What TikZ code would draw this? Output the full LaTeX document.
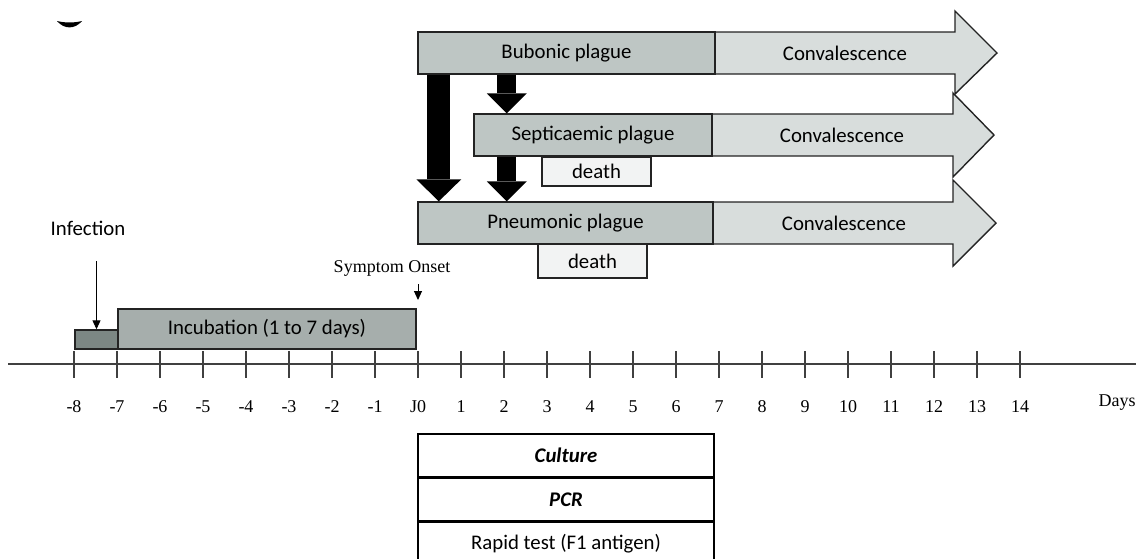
\documentclass[tikz,border=0pt]{standalone}
\usepackage{fontspec}
\setmainfont{Carlito}
\newfontfamily\numfont{Liberation Serif}
\usetikzlibrary{arrows.meta,positioning}

\definecolor{stagegrey}{RGB}{190,198,196}
\definecolor{convgrey}{RGB}{216,221,220}
\definecolor{incgrey}{RGB}{166,174,172}
\definecolor{infgrey}{RGB}{124,135,132}
\definecolor{deathgrey}{RGB}{242,243,243}
\definecolor{edgegrey}{RGB}{35,35,35}

\tikzset{
  txt/.style={font=\fontsize{20.8}{25}\selectfont},
  num/.style={font=\numfont\fontsize{18}{20}\selectfont},
  box/.style={txt, draw=edgegrey, line width=1.4pt, inner sep=0pt},
  stage/.style={box, fill=stagegrey, minimum height=42pt},
  conv/.style={draw=edgegrey, line width=1.4pt, fill=convgrey},
  testrow/.style={box, draw=black, fill=white, minimum width=296pt},
  bigdrop/.style={line width=23pt, -{Triangle[width=45pt, length=22pt, line width=0pt]}},
  smalldrop/.style={line width=19pt, -{Triangle[width=40pt, length=20pt, line width=0pt]}},
  pointer/.style={line width=1pt, -{Triangle[width=8pt, length=9pt]}},
  axis/.style={line width=1.3pt, draw=black!75}
}

\begin{document}
\begin{tikzpicture}[x=1pt, y=-1pt]
  \useasboundingbox (0,0) rectangle (1136,558);

  % stray mark, top left
  \fill (57,21) .. controls (65,23) and (74,23) .. (82,21)
        .. controls (75,29.5) and (64,29.5) .. cycle;

  % convalescence arrows
  \draw[conv] (714,32) -- (955,32) -- (955,11) -- (997,53)
              -- (955,94) -- (955,74) -- (714,74) -- cycle;
  \draw[conv] (711,114) -- (953,114) -- (953,93) -- (994,135)
              -- (953,177) -- (953,156) -- (711,156) -- cycle;
  \draw[conv] (712,202) -- (953,202) -- (953,180) -- (996,223)
              -- (953,266) -- (953,244) -- (712,244) -- cycle;
  \node[txt] (bubconv)  at (845,53)  {Convalescence};
  \node[txt] (sepconv)  at (842,135) {Convalescence};
  \node[txt] (pneuconv) at (844,223) {Convalescence};

  % clinical forms
  \node[stage, minimum width=297pt] (bub)  at (566.5,53)  {Bubonic plague};
  \node[stage, minimum width=238pt] (sep)  at (593,135)   {Septicaemic plague};
  \node[stage, minimum width=295pt] (pneu) at (565.5,223) {Pneumonic plague};
  \node[box, fill=deathgrey, minimum width=109pt, minimum height=29pt]
        (sepdeath)  at (596.5,171.5) {death};
  \node[box, fill=deathgrey, minimum width=109pt, minimum height=34pt]
        (pneudeath) at (592.5,261)   {death};

  \draw[bigdrop]   ([xshift=21.5pt]bub.south west) -- ([xshift=21.5pt]pneu.north west);
  \draw[smalldrop] ([xshift=89.5pt]bub.south west) -- ([xshift=33.5pt]sep.north west);
  \draw[smalldrop] ([xshift=33.5pt]sep.south west) -- ([xshift=89.5pt]pneu.north west);

  % incubation
  \node[box, fill=infgrey, minimum width=43pt, minimum height=19pt] (infbox) at (96.5,339.5) {};
  \node[box, fill=incgrey, minimum width=298pt, minimum height=40pt] (incub) at (267,329)
        {Incubation (1 to 7 days)};
  \node[txt] (inflabel) at (88,228) {Infection};
  \coordinate (infstart) at (96.5,261);
  \draw[pointer] (infstart) -- (infbox.north);
  \node[num] (onset) at (392,268) {Symptom Onset};
  \coordinate (onsettop) at (418,284);
  \coordinate (onsetend) at (418,300);
  \draw[pointer] (onsettop) -- (onsetend);

  % time axis
  \coordinate (axisstart) at (8,364);
  \coordinate (axisend)   at (1136,364);
  \draw[axis] (axisstart) -- (axisend);
  \foreach \d in {-8,...,14}
    \draw[axis] (418+43*\d,351) -- (418+43*\d,378);
  \foreach \d in {-8,...,-1,1,2,...,14}
    \node[num] (day\d) at (418+43*\d,407) {\d};
  \node[num] (day0) at (418,407) {J0};
  \node[num] (days) at (1117,403) {Days};

  % diagnostic tests
  \node[testrow, minimum height=43pt] (culture) at (566,455.5) {\bfseries\itshape Culture};
  \node[testrow, minimum height=42pt, below=0pt of culture] (pcr) {\bfseries\itshape PCR};
  \node[testrow, minimum height=43pt, below=0pt of pcr] (rapid) {Rapid test (F1 antigen)};
\end{tikzpicture}
\end{document}
